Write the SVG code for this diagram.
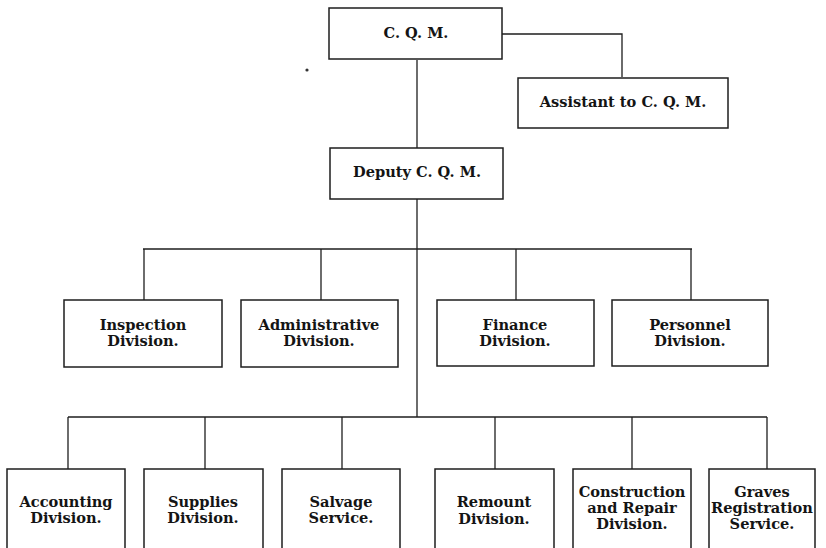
<svg xmlns="http://www.w3.org/2000/svg" width="826" height="548" viewBox="0 0 826 548">
  <style>
    .box { fill: #ffffff; stroke: #1e1e1e; stroke-width: 1.5; }
    .side { fill: none; stroke: #1e1e1e; stroke-width: 1.5; }
    .wire { fill: none; stroke: #1e1e1e; stroke-width: 1.3; }
    .label { font-family: "DejaVu Serif", "Liberation Serif", serif; font-weight: bold; font-size: 14.6px; fill: #141414; text-anchor: middle; }
  </style>
  <rect width="826" height="548" fill="#ffffff"/>

  <!-- connectors -->
  <g id="connectors" class="wire">
    <!-- C.Q.M. to assistant -->
    <polyline points="502,34 622,34 622,77"/>
    <!-- C.Q.M. to deputy -->
    <line x1="417" y1="60" x2="417" y2="148"/>
    <!-- deputy trunk down to both buses -->
    <line x1="417" y1="199" x2="417" y2="417"/>
    <!-- division bus -->
    <line x1="143" y1="249" x2="692" y2="249"/>
    <line x1="144" y1="249" x2="144" y2="300"/>
    <line x1="321" y1="249" x2="321" y2="300"/>
    <line x1="516" y1="249" x2="516" y2="300"/>
    <line x1="691" y1="249" x2="691" y2="300"/>
    <!-- service bus -->
    <line x1="68" y1="417" x2="767" y2="417"/>
    <line x1="68" y1="417" x2="68" y2="469"/>
    <line x1="205" y1="417" x2="205" y2="469"/>
    <line x1="342" y1="417" x2="342" y2="469"/>
    <line x1="495" y1="417" x2="495" y2="469"/>
    <line x1="632" y1="417" x2="632" y2="469"/>
    <line x1="767" y1="417" x2="767" y2="469"/>
  </g>

  <circle cx="307" cy="70" r="1.6" fill="#333"/>

  <!-- top -->
  <g id="cqm">
    <rect class="box" x="329" y="8" width="173" height="51"/>
    <text class="label" x="416" y="38">C. Q. M.</text>
  </g>
  <g id="assistant">
    <rect class="box" x="518" y="78" width="210" height="50"/>
    <text class="label" x="623" y="107">Assistant to C. Q. M.</text>
  </g>
  <g id="deputy">
    <rect class="box" x="330" y="148" width="173" height="51"/>
    <text class="label" x="417" y="177">Deputy C. Q. M.</text>
  </g>

  <!-- divisions -->
  <g id="inspection">
    <rect class="box" x="64" y="300" width="158" height="67"/>
    <text class="label" x="143" y="330">Inspection</text>
    <text class="label" x="143" y="346">Division.</text>
  </g>
  <g id="administrative">
    <rect class="box" x="241" y="300" width="157" height="67"/>
    <text class="label" x="319" y="330">Administrative</text>
    <text class="label" x="319" y="346">Division.</text>
  </g>
  <g id="finance">
    <rect class="box" x="437" y="300" width="157" height="66"/>
    <text class="label" x="515" y="330">Finance</text>
    <text class="label" x="515" y="346">Division.</text>
  </g>
  <g id="personnel">
    <rect class="box" x="612" y="300" width="156" height="66"/>
    <text class="label" x="690" y="330">Personnel</text>
    <text class="label" x="690" y="346">Division.</text>
  </g>

  <!-- services (boxes run off the lower edge) -->
  <g id="accounting">
    <path class="side" d="M7,552 V469 H125 V552"/>
    <text class="label" x="66" y="507">Accounting</text>
    <text class="label" x="66" y="523">Division.</text>
  </g>
  <g id="supplies">
    <path class="side" d="M144,552 V469 H263 V552"/>
    <text class="label" x="203" y="507">Supplies</text>
    <text class="label" x="203" y="523">Division.</text>
  </g>
  <g id="salvage">
    <path class="side" d="M282,552 V469 H400 V552"/>
    <text class="label" x="341" y="507">Salvage</text>
    <text class="label" x="341" y="523">Service.</text>
  </g>
  <g id="remount">
    <path class="side" d="M435,552 V469 H554 V552"/>
    <text class="label" x="494" y="507">Remount</text>
    <text class="label" x="494" y="524">Division.</text>
  </g>
  <g id="construction">
    <path class="side" d="M573,552 V469 H691 V552"/>
    <text class="label" x="632" y="497">Construction</text>
    <text class="label" x="632" y="513">and Repair</text>
    <text class="label" x="632" y="529">Division.</text>
  </g>
  <g id="graves">
    <path class="side" d="M709,552 V469 H815 V552"/>
    <text class="label" x="762" y="497">Graves</text>
    <text class="label" x="762" y="513">Registration</text>
    <text class="label" x="762" y="529">Service.</text>
  </g>
</svg>
